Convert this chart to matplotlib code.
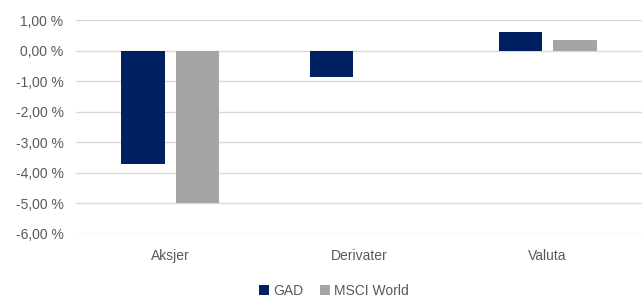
import matplotlib
matplotlib.use("Agg")
import matplotlib.pyplot as plt
import numpy as np

categories = ["Aksjer", "Derivater", "Valuta"]
gad = [-3.70, -0.85, 0.62]
msci = [-5.00, 0.0, 0.33]
yticks = [1, 0, -1, -2, -3, -4, -5, -6]

plt.rcParams["font.family"] = ["Liberation Sans", "DejaVu Sans"]
txt = "#595959"

fig = plt.figure(figsize=(6.42, 3.02), dpi=100)
ax = fig.add_axes([76 / 642, 1 - 234 / 302, 566 / 642, 214 / 302])

x = np.arange(len(categories))
w = 0.23
ax.bar(x - 0.145, gad, w, color="#002060", label="GAD", zorder=3)
ax.bar(x + 0.145, msci, w, color="#A5A5A5", label="MSCI World", zorder=3)

ax.set_xlim(-0.5, len(categories) - 0.5)
ax.set_ylim(-6, 1)
ax.set_yticks(yticks)
ax.set_yticklabels([f"{v:.2f} %".replace(".", ",") for v in yticks], color=txt, fontsize=10)
ax.set_xticks(x)
ax.set_xticklabels(categories, color=txt, fontsize=10)
ax.tick_params(length=0)
ax.tick_params(axis="x", pad=11)
ax.tick_params(axis="y", pad=9)
ax.grid(axis="y", color="#D9D9D9", linewidth=1, zorder=0)
for s in ax.spines.values():
    s.set_visible(False)

fig.legend(loc="center", bbox_to_anchor=(334 / 642, 1 - 291 / 302), ncol=2, frameon=False,
           fontsize=10, handlelength=0.7, handleheight=0.7, handletextpad=0.3, columnspacing=1.2,
           labelcolor=txt)

fig.savefig("out.png", dpi=100)
